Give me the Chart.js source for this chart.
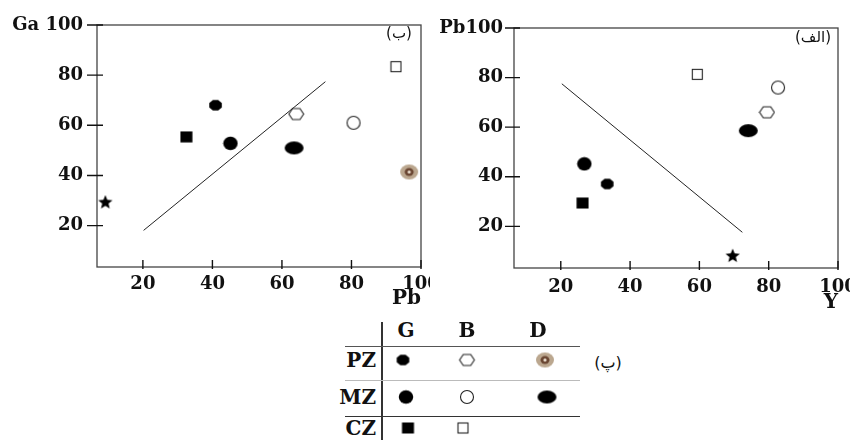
<!DOCTYPE html>
<html>
<head>
<meta charset="utf-8">
<script src="https://cdn.jsdelivr.net/npm/chart.js@4.4.0/dist/chart.umd.min.js"></script>
<style>
    html, body { margin: 0; padding: 0; background: #fff; }
    #wrap { position: relative; width: 850px; height: 440px; overflow: hidden; font-family: 'DejaVu Serif', serif; }
    .chartBox { position: absolute; top: 0; }
    .lbl { position: absolute; white-space: nowrap; transform: translate(-50%, -50%); color: #111; }
    .fa { font-family: 'DejaVu Sans', sans-serif; font-size: 15px; }
    .hd { font-weight: bold; font-size: 20px; }
    .rowlbl { position: absolute; font-weight: bold; font-size: 20px; transform: translate(-100%, -50%); color: #111; }
    .hline, .vline { position: absolute; }
    .mk { position: absolute; transform: translate(-50%, -50%); }
</style>
</head>
<body>
<div id="wrap">
    <div class="chartBox" style="left:0"><canvas id="chartGaPb" width="430" height="318"></canvas></div>
    <div class="chartBox" style="left:420px"><canvas id="chartPbY" width="430" height="318"></canvas></div>

    <div class="lbl fa" style="left:399px; top:33px">(ب)</div>
    <div class="lbl fa" style="left:813px; top:37px">(الف)</div>

    <!-- tabla de simbolos -->
    <div class="vline" style="left:381px; top:322px; width:1.5px; height:118px; background:#333"></div>
    <div class="hline" style="left:345px; top:346px; width:235px; height:1.3px; background:#555"></div>
    <div class="hline" style="left:345px; top:380px; width:235px; height:1.3px; background:#bbb"></div>
    <div class="hline" style="left:345px; top:416px; width:235px; height:1.3px; background:#333"></div>
    <div id="legendBox"></div>
    <div class="lbl fa" style="left:608px; top:362px; font-size:16px">(پ)</div>
</div>

<script>
// Valores de los ejes
const tickValues = [20, 40, 60, 80, 100];
const seriesKeys = ['PZ-G', 'PZ-B', 'PZ-D', 'MZ-G', 'MZ-B', 'MZ-D', 'CZ-G', 'CZ-B', 'other'];

// Grafico (ب): Ga vs Pb
const pbLeft = [40.9, 64.1, 96.6, 45.2, 80.6, 63.5, 32.5, 92.8, 9.2];
const gaLeft = [68.0, 64.5, 41.4, 52.8, 61.0, 51.0, 55.4, 83.4, 29.4];
const lineLeftPb = [20.2, 72.5];
const lineLeftGa = [18.1, 77.4];

// Grafico (الف): Pb vs Y
const yRight = [33.4, 79.5, null, 26.8, 82.7, 74.1, 26.3, 59.4, 69.6];
const pbRight = [37.1, 66.0, null, 45.2, 76.0, 58.6, 29.4, 81.3, 8.2];
const lineRightY = [20.3, 72.4];
const lineRightPb = [77.5, 17.6];

// Tabla de leyenda
const zoneLabels = ['PZ', 'MZ', 'CZ'];
const rockLabels = ['G', 'B', 'D'];

// ---- marcadores dibujados en canvas ----
function makeMarker(w, h, draw) {
    const c = document.createElement('canvas');
    c.width = w;
    c.height = h;
    draw(c.getContext('2d'), w / 2, h / 2);
    return c;
}

function polyPath(ctx, cx, cy, rx, ry, n, rot) {
    ctx.beginPath();
    for (let i = 0; i < n; i++) {
        const a = rot + i * 2 * Math.PI / n;
        const px = cx + rx * Math.cos(a);
        const py = cy + ry * Math.sin(a);
        if (i === 0) ctx.moveTo(px, py); else ctx.lineTo(px, py);
    }
    ctx.closePath();
}

const markers = {
    'PZ-G': makeMarker(15, 13, (ctx, cx, cy) => {
        polyPath(ctx, cx, cy, 6.8, 5.8, 8, Math.PI / 8);
        ctx.fillStyle = '#000';
        ctx.fill();
    }),
    'PZ-B': makeMarker(17, 15, (ctx, cx, cy) => {
        polyPath(ctx, cx, cy, 7.4, 6.4, 6, 0);
        ctx.fillStyle = '#fff';
        ctx.fill();
        ctx.strokeStyle = '#222';
        ctx.lineWidth = 1.1;
        ctx.stroke();
    }),
    'PZ-D': makeMarker(20, 17, (ctx, cx, cy) => {
        ctx.beginPath();
        ctx.ellipse(cx, cy, 9, 7.5, 0, 0, 2 * Math.PI);
        ctx.fillStyle = '#bba78f';
        ctx.fill();
        ctx.beginPath();
        ctx.ellipse(cx, cy, 4.5, 4, 0, 0, 2 * Math.PI);
        ctx.fillStyle = '#6a4632';
        ctx.fill();
        ctx.beginPath();
        ctx.arc(cx, cy, 1.6, 0, 2 * Math.PI);
        ctx.fillStyle = '#eee2d2';
        ctx.fill();
    }),
    'MZ-G': makeMarker(16, 15, (ctx, cx, cy) => {
        ctx.beginPath();
        ctx.ellipse(cx, cy, 7.2, 6.8, 0, 0, 2 * Math.PI);
        ctx.fillStyle = '#000';
        ctx.fill();
    }),
    'MZ-B': makeMarker(16, 16, (ctx, cx, cy) => {
        ctx.beginPath();
        ctx.arc(cx, cy, 6.5, 0, 2 * Math.PI);
        ctx.fillStyle = '#fff';
        ctx.fill();
        ctx.strokeStyle = '#222';
        ctx.lineWidth = 1.1;
        ctx.stroke();
    }),
    'MZ-D': makeMarker(21, 15, (ctx, cx, cy) => {
        ctx.beginPath();
        ctx.ellipse(cx, cy, 9.5, 6.5, 0, 0, 2 * Math.PI);
        ctx.fillStyle = '#000';
        ctx.fill();
    }),
    'CZ-G': makeMarker(13, 12, (ctx) => {
        ctx.fillStyle = '#000';
        ctx.fillRect(0.5, 0.5, 12, 11);
    }),
    'CZ-B': makeMarker(13, 13, (ctx) => {
        ctx.fillStyle = '#fff';
        ctx.fillRect(1, 1, 11, 11);
        ctx.strokeStyle = '#222';
        ctx.lineWidth = 1.1;
        ctx.strokeRect(1.5, 1.5, 10, 10);
    }),
    'other': makeMarker(16, 15, (ctx, cx, cy) => {
        ctx.beginPath();
        for (let i = 0; i < 10; i++) {
            const r = i % 2 === 0 ? 7.5 : 3.3;
            const a = -Math.PI / 2 + i * Math.PI / 5;
            const px = cx + r * Math.cos(a);
            const py = cy + 0.5 + r * Math.sin(a);
            if (i === 0) ctx.moveTo(px, py); else ctx.lineTo(px, py);
        }
        ctx.closePath();
        ctx.fillStyle = '#000';
        ctx.fill();
    })
};

// ---- marco y marcas de los ejes ----
const frameTicks = {
    id: 'frameTicks',
    afterDraw(chart, args, opts) {
        const { ctx, chartArea: a, scales: { x, y } } = chart;
        ctx.save();
        ctx.strokeStyle = '#444';
        ctx.lineWidth = 1.3;
        ctx.strokeRect(a.left, a.top, a.right - a.left, a.bottom - a.top);
        ctx.strokeStyle = '#111';
        ctx.lineWidth = 1.4;
        ctx.beginPath();
        tickValues.forEach(v => {
            const py = y.getPixelForValue(v);
            ctx.moveTo(a.left - opts.yOut, py);
            ctx.lineTo(a.left + 6, py);
            const px = x.getPixelForValue(v);
            ctx.moveTo(px, a.bottom + 2);
            ctx.lineTo(px, a.bottom - 7);
        });
        ctx.stroke();
        ctx.restore();
    }
};

function buildDatasets(xs, ys, lineX, lineY) {
    const ds = seriesKeys.map((k, i) => ({
        label: k,
        data: xs[i] == null ? [] : [{ x: xs[i], y: ys[i] }],
        pointStyle: markers[k],
        pointRadius: 8,
        pointHoverRadius: 8,
        clip: false
    }));
    ds.unshift({
        type: 'line',
        label: 'limite',
        data: lineX.map((v, i) => ({ x: v, y: lineY[i] })),
        borderColor: '#222',
        borderWidth: 1,
        pointRadius: 0,
        showLine: true,
        fill: false
    });
    return ds;
}

const tickFont = { family: 'DejaVu Serif', weight: 'bold', size: 18 };

function makeOptions(cfg) {
    return {
        responsive: false,
        animation: false,
        events: [],
        layout: { padding: { top: cfg.top, right: cfg.right, left: 0, bottom: 0 } },
        plugins: {
            legend: { display: false },
            tooltip: { enabled: false },
            frameTicks: { yOut: cfg.yOut }
        },
        scales: {
            x: {
                type: 'linear',
                min: cfg.xMin,
                max: 100,
                afterBuildTicks: s => { s.ticks = tickValues.map(v => ({ value: v })); },
                afterFit: s => { s.height = cfg.xHeight; s.paddingLeft = 0; s.paddingRight = 0; },
                grid: { display: false, drawTicks: false },
                border: { display: false },
                ticks: { autoSkip: false, maxRotation: 0, padding: cfg.xPad, color: '#111', font: tickFont },
                title: {
                    display: true,
                    text: cfg.xTitle,
                    align: 'end',
                    color: '#111',
                    font: { family: 'DejaVu Serif', weight: 'bold', size: 20 },
                    padding: { top: 0, bottom: cfg.titlePad }
                }
            },
            y: {
                type: 'linear',
                min: cfg.yMin,
                max: 100,
                afterBuildTicks: s => { s.ticks = tickValues.map(v => ({ value: v })); },
                afterFit: s => { s.width = cfg.yWidth; s.paddingTop = 0; s.paddingBottom = 0; },
                grid: { display: false, drawTicks: false },
                border: { display: false },
                ticks: {
                    autoSkip: false,
                    padding: cfg.yPad,
                    color: '#111',
                    font: tickFont,
                    callback: v => (v === 100 ? cfg.yTop : String(v))
                }
            }
        }
    };
}

new Chart(document.getElementById('chartGaPb'), {
    type: 'scatter',
    data: { datasets: buildDatasets(pbLeft, gaLeft, lineLeftPb, lineLeftGa) },
    options: makeOptions({
        top: 25, right: 9, xHeight: 51, yWidth: 97, xMin: 6.8, yMin: 3.5,
        xPad: 7, yPad: 14, yOut: 10, xTitle: 'Pb', yTop: 'Ga 100', titlePad: 7
    }),
    plugins: [frameTicks]
});

new Chart(document.getElementById('chartPbY'), {
    type: 'scatter',
    data: { datasets: buildDatasets(yRight, pbRight, lineRightY, lineRightPb) },
    options: makeOptions({
        top: 28, right: 12, xHeight: 50, yWidth: 94, xMin: 6.5, yMin: 3.2,
        xPad: 9, yPad: 11, yOut: 9, xTitle: 'Y', yTop: 'Pb100', titlePad: 3
    }),
    plugins: [frameTicks]
});

// ---- tabla de leyenda ----
const legendBox = document.getElementById('legendBox');
const headX = [406, 467, 538];
const rowY = [360, 397, 428];
const cellX = [[403, 467, 545], [406, 467, 547], [408, 463, null]];

rockLabels.forEach((t, i) => {
    const d = document.createElement('div');
    d.className = 'lbl hd';
    d.style.left = headX[i] + 'px';
    d.style.top = '330px';
    d.textContent = t;
    legendBox.appendChild(d);
});

zoneLabels.forEach((z, r) => {
    const d = document.createElement('div');
    d.className = 'rowlbl';
    d.style.left = '376px';
    d.style.top = rowY[r] + 'px';
    d.textContent = z;
    legendBox.appendChild(d);
    rockLabels.forEach((g, c) => {
        const key = z + '-' + g;
        if (!markers[key] || cellX[r][c] == null) return;
        const img = document.createElement('img');
        img.className = 'mk';
        img.src = markers[key].toDataURL();
        img.style.left = cellX[r][c] + 'px';
        img.style.top = rowY[r] + 'px';
        legendBox.appendChild(img);
    });
});
</script>
</body>
</html>
